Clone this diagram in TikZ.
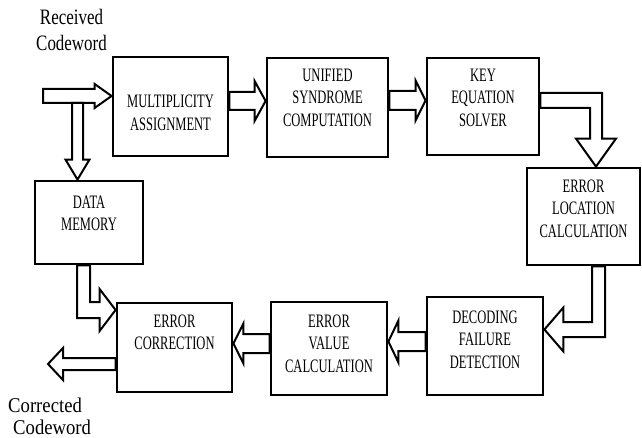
\documentclass[tikz,border=0pt]{standalone}
\usepackage{fontspec}
\setmainfont{Liberation Serif}
\newfontfamily\boxfont{Liberation Serif}[FakeStretch=0.66]
\newfontfamily\tagfont{Liberation Serif}[FakeStretch=0.77]
\newfontfamily\outfont{Liberation Serif}[FakeStretch=0.89]
\usetikzlibrary{calc}
% hollow block arrows: start, tip, shaft half width, head half width, head length (signed)
\newcommand\harrow[5]{\draw[blockarrow] let \p1=(#1), \p2=(#2) in
  (\x1,{\y2+#3}) -- ({\x2-(#5)},{\y2+#3}) -- ({\x2-(#5)},{\y2+#4}) -- (\p2)
  -- ({\x2-(#5)},{\y2-#4}) -- ({\x2-(#5)},{\y2-#3}) -- (\x1,{\y2-#3}) -- cycle;}
\newcommand\varrow[5]{\draw[blockarrow] let \p1=(#1), \p2=(#2) in
  ({\x2-#3},\y1) -- ({\x2-#3},{\y2-(#5)}) -- ({\x2-#4},{\y2-(#5)}) -- (\p2)
  -- ({\x2+#4},{\y2-(#5)}) -- ({\x2+#3},{\y2-(#5)}) -- ({\x2+#3},\y1) -- cycle;}

\begin{document}
\begin{tikzpicture}[x=1pt,y=-1pt,
    box/.style={draw,line width=2.8pt,rectangle,inner sep=0pt},
    boxtext/.style={font=\boxfont\fontsize{19}{22.5}\selectfont,align=center,inner sep=0pt},
    blockarrow/.style={draw,line width=2pt,line join=miter}]
	%%%%% START %%%%%
	\useasboundingbox (0,0) rectangle (642,438);

	\node[box,minimum width=115pt,minimum height=99pt] (mult) at (170.5,106.5) {};
	\node[box,minimum width=121pt,minimum height=99pt] (unif) at (327.5,107.5) {};
	\node[box,minimum width=112pt,minimum height=97pt] (key) at (483,106.5) {};
	\node[box,minimum width=113pt,minimum height=97pt] (loc) at (583.5,216.5) {};
	\node[box,minimum width=116pt,minimum height=98pt] (dec) at (485,346) {};
	\node[box,minimum width=116pt,minimum height=93pt] (val) at (329,348.5) {};
	\node[box,minimum width=115pt,minimum height=89pt] (corr) at (174.5,347.5) {};
	\node[box,minimum width=108pt,minimum height=83pt] (mem) at (89,222.5) {};

	\node[boxtext] (mult-t) at ($(mult)+(0,6.4)$) {MULTIPLICITY\\ASSIGNMENT};
	\node[boxtext] (unif-t) at ($(unif)+(0,-10)$) {UNIFIED\\SYNDROME\\COMPUTATION};
	\node[boxtext] (key-t) at ($(key)+(0,-9)$) {KEY\\EQUATION\\SOLVER};
	\node[boxtext] (loc-t) at ($(loc)+(0,-8)$) {ERROR\\LOCATION\\CALCULATION};
	\node[boxtext] (dec-t) at ($(dec)+(0,-6.5)$) {DECODING\\FAILURE\\DETECTION};
	\node[boxtext] (val-t) at ($(val)+(0,-5)$) {ERROR\\VALUE\\CALCULATION};
	\node[boxtext] (corr-t) at ($(corr)+(0,-15)$) {ERROR\\CORRECTION};
	\node[boxtext] (mem-t) at ($(mem)+(0,-9)$) {DATA\\MEMORY};

	\node[font=\tagfont\fontsize{22}{26}\selectfont,align=center,inner sep=0pt] (rcv) at (71.5,29.5) {Received\\Codeword};
	\node[font=\outfont\fontsize{21}{22}\selectfont,align=left,inner sep=0pt,anchor=west] (cor) at (8,416) {Corrected\\\hspace*{5pt}Codeword};

	\coordinate (rx) at (43,96);
	\coordinate (split) at (77.5,103);
	\coordinate (out) at (48,364);

	% straight arrows
	\harrow{rx}{[yshift=10.5pt]mult.west}{7pt}{12pt}{17pt}
	\varrow{split}{[xshift=-11.5pt]mem.north}{5.5pt}{12pt}{-20pt}
	\harrow{mult.east}{[yshift=6.5pt]unif.west}{9pt}{20pt}{11pt}
	\harrow{unif.east}{[yshift=6pt]key.west}{9.5pt}{20pt}{10pt}
	\harrow{dec.west}{[yshift=7pt]val.east}{9.5pt}{21pt}{-10pt}
	\harrow{val.west}{[yshift=4pt]corr.east}{9.5pt}{20pt}{-10pt}
	\harrow{corr.west}{out}{6pt}{16pt}{-15pt}

	% elbow arrows
	\draw[blockarrow] let \p1=([yshift=6pt]key.east), \p2=([xshift=12.5pt]loc.north) in
		(\x1,{\y1+7.5pt}) -- ({\x2+6pt},{\y1+7.5pt}) -- ({\x2+6pt},{\y2+28pt}) -- ({\x2+20pt},{\y2+28pt}) -- (\p2)
		-- ({\x2-20pt},{\y2+28pt}) -- ({\x2-6pt},{\y2+28pt}) -- ({\x2-6pt},{\y1-7.5pt}) -- (\x1,{\y1-7.5pt}) -- cycle;
	\draw[blockarrow] let \p1=([xshift=15pt]loc.south), \p2=([yshift=16.5pt]dec.east) in
		({\x1+6.5pt},\y1) -- ({\x1+6.5pt},{\y2-7.5pt}) -- ({\x2+19pt},{\y2-7.5pt}) -- ({\x2+19pt},{\y2-22pt}) -- (\p2)
		-- ({\x2+19pt},{\y2+22pt}) -- ({\x2+19pt},{\y2+7.5pt}) -- ({\x1-6.5pt},{\y2+7.5pt}) -- ({\x1-6.5pt},\y1) -- cycle;
	\draw[blockarrow] let \p1=([xshift=-5.5pt]mem.south), \p2=([yshift=37.5pt]corr.west) in
		({\x1-6.5pt},\y1) -- ({\x1-6.5pt},{\y2-8pt}) -- ({\x2-16pt},{\y2-8pt}) -- ({\x2-16pt},{\y2-21pt}) -- (\p2)
		-- ({\x2-16pt},{\y2+21pt}) -- ({\x2-16pt},{\y2+8pt}) -- ({\x1+6.5pt},{\y2+8pt}) -- ({\x1+6.5pt},\y1) -- cycle;
	%%%%% END %%%%%
\end{tikzpicture}
\end{document}
